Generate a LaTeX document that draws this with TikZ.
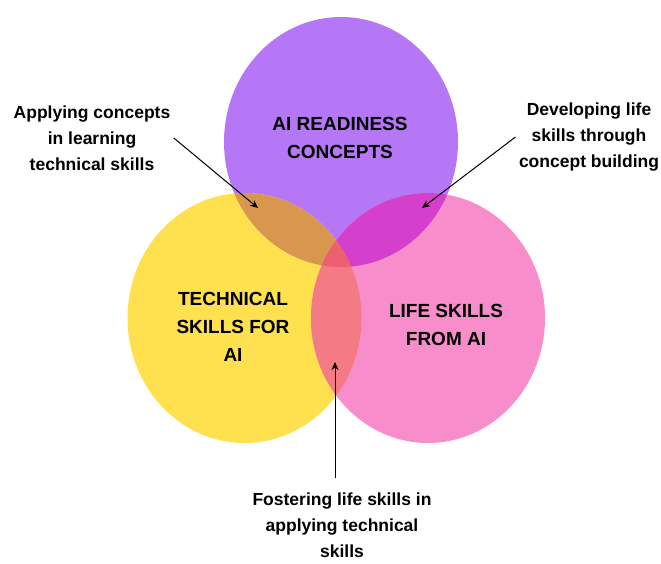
\documentclass[tikz,border=0pt]{standalone}
\usepackage{fontspec}
\setmainfont{Liberation Sans}
\usetikzlibrary{arrows.meta}
\definecolor{cpurple}{HTML}{B577F5}
\definecolor{cyellow}{HTML}{FFE14F}
\definecolor{cpink}{HTML}{F78DCB}
\definecolor{corange}{HTML}{D8964F}
\definecolor{cmagenta}{HTML}{D440CC}
\definecolor{csalmon}{HTML}{F47A86}
\definecolor{ctriple}{HTML}{EE6070}
\tikzset{
  bigtext/.style={align=center, font=\fontsize{19}{28}\selectfont\bfseries, text=black},
  smalltext/.style={align=center, font=\fontsize{17.5}{26}\selectfont\bfseries, text=black},
  pointer/.style={draw=black, line width=1pt, -{Stealth[length=8pt,width=7pt]}},
  venn/.style={x radius=117, y radius=125}
}
\begin{document}
\begin{tikzpicture}[x=1pt,y=-1pt]
\useasboundingbox (0,0) rectangle (661,563);
\coordinate (P) at (341,142);
\coordinate (Y) at (244.5,318);
\coordinate (K) at (428,318);
% base sets
\fill[cpurple] (P) ellipse [venn];
\fill[cyellow] (Y) ellipse [venn];
\fill[cpink] (K) ellipse [venn];
% pairwise overlaps
\begin{scope}
  \clip (P) ellipse [venn];
  \fill[corange] (Y) ellipse [venn];
\end{scope}
\begin{scope}
  \clip (P) ellipse [venn];
  \fill[cmagenta] (K) ellipse [venn];
\end{scope}
\begin{scope}
  \clip (Y) ellipse [venn];
  \fill[csalmon] (K) ellipse [venn];
\end{scope}
\begin{scope}
  \clip (P) ellipse [venn];
  \clip (Y) ellipse [venn];
  \fill[ctriple] (K) ellipse [venn];
\end{scope}
% set labels
\node[bigtext] (lp) at (340,138) {AI READINESS\\CONCEPTS};
\node[bigtext] (ly) at (233,327) {TECHNICAL\\SKILLS FOR\\AI};
\node[bigtext] (lk) at (446,325) {LIFE SKILLS\\FROM AI};
% annotations
\node[smalltext] (al) at (92,138) {Applying concepts\\in learning\\technical skills};
\node[smalltext] (ar) at (589,137) {Developing life\\skills through\\concept building};
\node[smalltext] (ab) at (342,525) {Fostering life skills in\\applying technical\\skills};
% arrow targets
\coordinate (tl) at (258,208);
\coordinate (tr) at (422,208);
\coordinate (tb) at (335,362);
\coordinate (sb) at (335,478);
\draw[pointer] (al.east) -- (tl);
\draw[pointer] (ar.west) -- (tr);
\draw[pointer] (sb) -- (tb);
\end{tikzpicture}
\end{document}
